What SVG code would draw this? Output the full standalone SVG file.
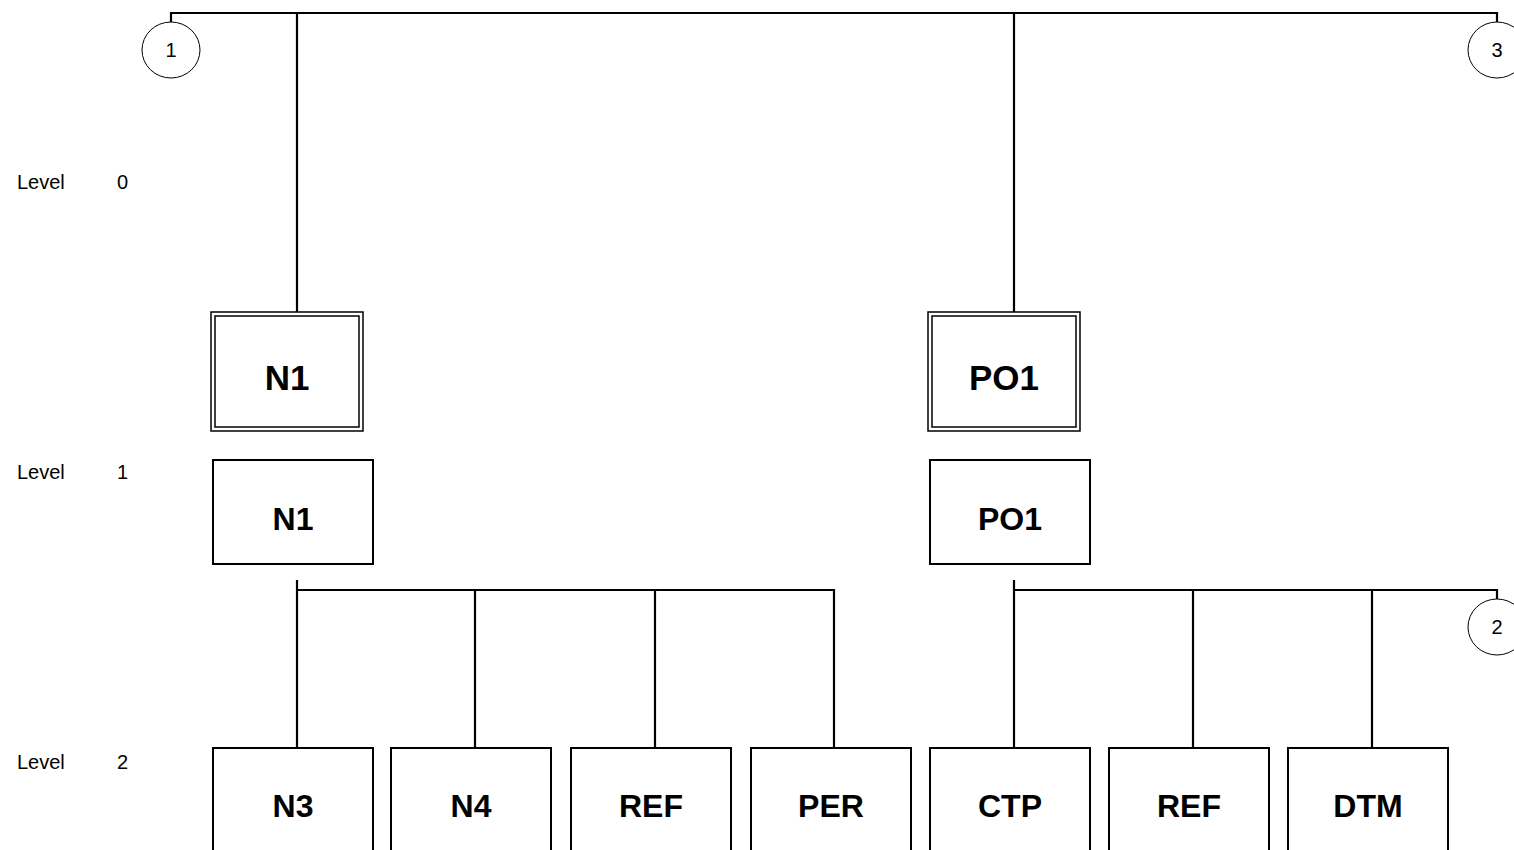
<svg xmlns="http://www.w3.org/2000/svg" width="1514" height="850" viewBox="0 0 1514 850">
<style>
.bg{fill:#fff}
.box{fill:#fff;stroke:#000;stroke-width:2}
.dbl{fill:none;stroke:#000;stroke-width:1.5}
.ln{fill:none;stroke:#000;stroke-width:2.2}
.conn{fill:#fff;stroke:#000;stroke-width:1}
.big{font-family:"Liberation Sans",Arial,sans-serif;font-weight:bold;font-size:35px;text-anchor:middle;fill:#000}
.lbl{font-family:"Liberation Sans",Arial,sans-serif;font-weight:bold;font-size:32px;text-anchor:middle;fill:#000}
.lvl{font-family:"Liberation Sans",Arial,sans-serif;font-size:20px;fill:#000}
.num{font-family:"Liberation Sans",Arial,sans-serif;font-size:20px;text-anchor:middle;fill:#000}
</style>
<rect class="bg" x="0" y="0" width="1514" height="850"/>
<g id="connectors">
<path class="ln" d="M171,22 V13 H1497 V22"/>
<path class="ln" d="M297,13 V312"/>
<path class="ln" d="M1014,13 V312"/>
<path class="ln" d="M297,580 V748"/>
<path class="ln" d="M297,590 H834 V748"/>
<path class="ln" d="M475,590 V748"/>
<path class="ln" d="M655,590 V748"/>
<path class="ln" d="M1014,580 V748"/>
<path class="ln" d="M1014,590 H1497 V599"/>
<path class="ln" d="M1193,590 V748"/>
<path class="ln" d="M1372,590 V748"/>
</g>
<g id="off1"><ellipse class="conn" cx="171" cy="50" rx="29" ry="28"/><text class="num" x="171" y="57">1</text></g>
<g id="off3"><ellipse class="conn" cx="1497" cy="50" rx="29" ry="28"/><text class="num" x="1497" y="57">3</text></g>
<g id="off2"><ellipse class="conn" cx="1497" cy="627" rx="29" ry="28"/><text class="num" x="1497" y="634">2</text></g>
<g id="lvl0"><text class="lvl" x="17" y="189">Level</text><text class="lvl" x="117" y="189">0</text></g>
<g id="lvl1"><text class="lvl" x="17" y="479">Level</text><text class="lvl" x="117" y="479">1</text></g>
<g id="lvl2"><text class="lvl" x="17" y="769">Level</text><text class="lvl" x="117" y="769">2</text></g>
<g id="n1top"><rect class="dbl" x="211" y="312" width="152" height="119"/><rect class="dbl" x="215" y="316" width="144" height="111"/><text class="big" x="287" y="390">N1</text></g>
<g id="po1top"><rect class="dbl" x="928" y="312" width="152" height="119"/><rect class="dbl" x="932" y="316" width="144" height="111"/><text class="big" x="1004" y="390">PO1</text></g>
<g id="n1"><rect class="box" x="213" y="460" width="160" height="104"/><text class="lbl" x="293" y="530">N1</text></g>
<g id="po1"><rect class="box" x="930" y="460" width="160" height="104"/><text class="lbl" x="1010" y="530">PO1</text></g>
<g id="n3"><rect class="box" x="213" y="748" width="160" height="110"/><text class="lbl" x="293" y="817">N3</text></g>
<g id="n4"><rect class="box" x="391" y="748" width="160" height="110"/><text class="lbl" x="471" y="817">N4</text></g>
<g id="ref1"><rect class="box" x="571" y="748" width="160" height="110"/><text class="lbl" x="651" y="817">REF</text></g>
<g id="per"><rect class="box" x="751" y="748" width="160" height="110"/><text class="lbl" x="831" y="817">PER</text></g>
<g id="ctp"><rect class="box" x="930" y="748" width="160" height="110"/><text class="lbl" x="1010" y="817">CTP</text></g>
<g id="ref2"><rect class="box" x="1109" y="748" width="160" height="110"/><text class="lbl" x="1189" y="817">REF</text></g>
<g id="dtm"><rect class="box" x="1288" y="748" width="160" height="110"/><text class="lbl" x="1368" y="817">DTM</text></g>
</svg>
